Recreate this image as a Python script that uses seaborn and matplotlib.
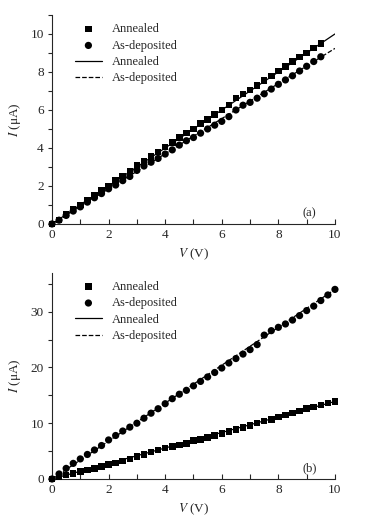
import numpy as np
import pandas as pd
import seaborn as sns
import matplotlib.pyplot as plt
from matplotlib.ticker import MultipleLocator

# Data
# panel (a)
v_a = [0, 0.25, 0.5, 0.75, 1.0, 1.25, 1.5, 1.75, 2.0, 2.25, 2.5, 2.75, 3.0, 3.25,
       3.5, 3.75, 4.0, 4.25, 4.5, 4.75, 5.0, 5.25, 5.5, 5.75, 6.0, 6.25, 6.5, 6.75,
       7.0, 7.25, 7.5, 7.75, 8.0, 8.25, 8.5, 8.75, 9.0, 9.25, 9.5]
annealed_a = [0, 0.22, 0.50, 0.75, 1.00, 1.25, 1.52, 1.76, 2.00, 2.28, 2.52, 2.80,
              3.08, 3.30, 3.55, 3.80, 4.04, 4.28, 4.55, 4.80, 5.00, 5.30, 5.50, 5.75,
              6.00, 6.25, 6.62, 6.85, 7.05, 7.30, 7.55, 7.80, 8.05, 8.30, 8.55, 8.80,
              9.00, 9.25, 9.50]
asdep_a = [0, 0.20, 0.45, 0.68, 0.90, 1.15, 1.38, 1.60, 1.85, 2.05, 2.28, 2.50,
           2.82, 3.05, 3.25, 3.45, 3.68, 3.90, 4.15, 4.38, 4.55, 4.78, 5.00, 5.20,
           5.40, 5.65, 6.00, 6.25, 6.40, 6.62, 6.85, 7.10, 7.35, 7.58, 7.80, 8.05,
           8.30, 8.55, 8.80]
fit_v_a = [0, 10]
fit_annealed_a = [0, 10.0]
fit_asdep_a = [0, 9.24]

# panel (b)
v_b = [0, 0.25, 0.5, 0.75, 1.0, 1.25, 1.5, 1.75, 2.0, 2.25, 2.5, 2.75, 3.0, 3.25,
       3.5, 3.75, 4.0, 4.25, 4.5, 4.75, 5.0, 5.25, 5.5, 5.75, 6.0, 6.25, 6.5, 6.75,
       7.0, 7.25, 7.5, 7.75, 8.0, 8.25, 8.5, 8.75, 9.0, 9.25, 9.5, 9.75, 10.0]
annealed_b = [0, 0.4, 0.7, 1.0, 1.3, 1.6, 1.9, 2.2, 2.6, 2.9, 3.2, 3.6, 4.0, 4.4,
              4.8, 5.2, 5.6, 5.8, 6.1, 6.4, 6.9, 7.1, 7.4, 7.8, 8.2, 8.5, 8.9, 9.2,
              9.6, 10.0, 10.4, 10.7, 11.1, 11.5, 11.8, 12.2, 12.6, 12.9, 13.3, 13.6,
              13.9]
asdep_b = [0, 0.9, 1.9, 2.8, 3.6, 4.4, 5.2, 6.0, 7.0, 7.8, 8.6, 9.3, 10.0, 10.9,
           11.8, 12.6, 13.5, 14.4, 15.2, 15.9, 16.7, 17.5, 18.3, 19.1, 19.9, 20.8,
           21.6, 22.4, 23.2, 24.1, 25.8, 26.6, 27.2, 27.8, 28.5, 29.3, 30.2, 31.0,
           32.0, 33.0, 34.0]
fit_v_b = [0, 10]
fit_annealed_b = [0, 13.9]
fit_asdep_b = [0, 34.0]

sns.set_style("ticks")
plt.rcParams['font.family'] = ['Liberation Serif', 'DejaVu Serif']
plt.rcParams['mathtext.fontset'] = 'stix'
plt.rcParams['axes.linewidth'] = 0.8

fig = plt.figure(figsize=(3.67, 5.27), dpi=100)
ax_a = fig.add_axes([0.1417, 0.575, 0.771, 0.3966])
ax_b = fig.add_axes([0.1417, 0.0911, 0.771, 0.3915])

panels = [
    (ax_a, v_a, annealed_a, asdep_a, fit_v_a, fit_annealed_a, fit_asdep_a, 11, 2, 1, '(a)'),
    (ax_b, v_b, annealed_b, asdep_b, fit_v_b, fit_annealed_b, fit_asdep_b, 37, 10, 5, '(b)'),
]

for ax, v, ann, dep, fv, fann, fdep, ytop, ymaj, ymin, tag in panels:
    df = pd.DataFrame({'V': v, 'ann': ann, 'dep': dep})
    sns.scatterplot(data=df, x='V', y='ann', marker='s', color='black', s=22,
                    edgecolor='none', label='Annealed', ax=ax, clip_on=False, zorder=3)
    sns.scatterplot(data=df, x='V', y='dep', marker='o', color='black', s=27,
                    edgecolor='none', label='As-deposited', ax=ax, clip_on=False, zorder=3)
    sns.lineplot(x=fv, y=fann, color='black', lw=0.9, label='Annealed', ax=ax)
    sns.lineplot(x=fv, y=fdep, color='black', lw=0.9, ls='--', dashes=(3, 2),
                 label='As-deposited', ax=ax)

    ax.set_xlim(0, 10)
    ax.set_ylim(0, ytop)
    ax.xaxis.set_major_locator(MultipleLocator(2))
    ax.xaxis.set_minor_locator(MultipleLocator(1))
    ax.yaxis.set_major_locator(MultipleLocator(ymaj))
    ax.yaxis.set_minor_locator(MultipleLocator(ymin))
    ax.tick_params(axis='x', which='both', direction='in', length=3.5, width=0.8,
                   labelsize=9.5, pad=3.5)
    ax.tick_params(axis='y', which='both', direction='out', length=3, width=0.8,
                   labelsize=9.5, pad=3)
    sns.despine(ax=ax)

    ax.set_xlabel('$V$ (V)', fontsize=9.5, labelpad=4)
    ax.set_ylabel('$I$ (μA)', fontsize=9.5, labelpad=5)
    ax.text(0.91, 0.05, tag, transform=ax.transAxes, fontsize=9, ha='center', va='center')

    handles, labels = ax.get_legend_handles_labels()
    ax.legend(handles, labels, loc='upper left', bbox_to_anchor=(0.08, 0.96),
              frameon=False, fontsize=9, borderpad=0, borderaxespad=0,
              handlelength=2.2, handletextpad=0.8, labelspacing=0.35)

fig.savefig('out.png', dpi=100)
